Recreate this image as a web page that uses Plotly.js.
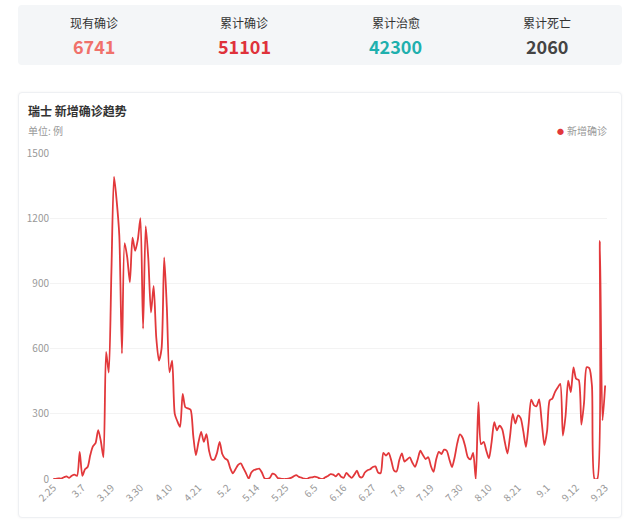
<!DOCTYPE html>
<html>
<head>
<meta charset="utf-8">
<script src="https://cdn.plot.ly/plotly-3.0.1.min.js"></script>
<style>
  html, body { margin: 0; padding: 0; background: #ffffff; }
  #wrap { position: relative; width: 640px; height: 520px; overflow: hidden; }
  #card1 { position: absolute; left: 18px; top: 5px; width: 604px; height: 60px; background: #f4f6f8; border-radius: 4px; }
  #card2 { position: absolute; left: 18px; top: 92px; width: 602px; height: 424px; background: #ffffff; border: 1px solid #eef0f3; border-radius: 4px; box-shadow: 0 0 3px rgba(0,0,0,0.05); }
  #chart { position: absolute; left: 0; top: 0; width: 640px; height: 520px; }
</style>
</head>
<body>
<div id="wrap">
  <div id="card1"></div>
  <div id="card2"></div>
  <div id="chart"></div>
</div>
<script>
// ---- data ----
const statLabels = ["现有确诊", "累计确诊", "累计治愈", "累计死亡"];
const statValues = ["6741", "51101", "42300", "2060"];
const statColors = ["#f0716b", "#df323b", "#1fb0ae", "#444444"];

const chartTitle = "瑞士 新增确诊趋势";
const unitText = "单位: 例";
const seriesName = "新增确诊";

const dates = [
  "2.25","2.26","2.27","2.28","2.29",
  "3.1","3.2","3.3","3.4","3.5","3.6","3.7","3.9","3.10","3.11","3.12","3.13","3.14","3.15","3.16","3.17","3.18","3.19","3.20","3.21","3.22","3.23","3.24","3.25","3.26","3.27","3.28","3.29","3.30","3.31",
  "4.1","4.2","4.3","4.4","4.5","4.6","4.7","4.8","4.9","4.10","4.11","4.12","4.13","4.14","4.15","4.16","4.17","4.18","4.19","4.20","4.21","4.22","4.23","4.24","4.25","4.26","4.27","4.28","4.29","4.30",
  "5.1","5.2","5.3","5.4","5.5","5.6","5.7","5.8","5.9","5.11","5.12","5.13","5.14","5.15","5.16","5.17","5.18","5.19","5.20","5.21","5.22","5.23","5.24","5.25","5.26","5.27","5.28","5.29","5.30","5.31",
  "6.1","6.2","6.3","6.4","6.5","6.6","6.7","6.8","6.9","6.10","6.11","6.12","6.13","6.14","6.15","6.16","6.17","6.18","6.19","6.20","6.21","6.22","6.23","6.24","6.25","6.26","6.27","6.28","6.29","6.30",
  "7.1","7.2","7.3","7.4","7.5","7.6","7.7","7.8","7.9","7.10","7.11","7.12","7.13","7.14","7.15","7.16","7.17","7.18","7.19","7.20","7.21","7.22","7.23","7.24","7.25","7.26","7.27","7.28","7.29","7.30","7.31",
  "8.1","8.2","8.3","8.4","8.5","8.6","8.7","8.8","8.9","8.10","8.11","8.12","8.13","8.14","8.15","8.16","8.17","8.18","8.19","8.20","8.21","8.22","8.23","8.24","8.25","8.26","8.27","8.28","8.29","8.30","8.31",
  "9.1","9.2","9.3","9.4","9.5","9.6","9.7","9.8","9.9","9.10","9.11","9.12","9.13","9.14","9.15","9.16","9.17","9.18","9.19","9.20","9.21","9.22","9.23"
];

const newCases = [
  0,1,3,2,8,12,5,15,20,14,
  125,15,45,55,110,150,165,225,175,100,
  585,490,950,1390,1280,1120,578,1085,1020,905,
  1110,1050,1100,1200,692,1163,1010,766,888,650,
  545,600,1020,790,491,545,300,265,240,392,
  330,325,319,200,110,170,217,171,206,130,
  90,90,120,171,115,95,87,50,26,45,
  65,72,50,26,2,30,41,45,48,30,
  3,0,5,25,20,5,2,0,0,2,
  5,12,18,10,6,2,0,6,8,11,
  8,2,0,8,14,22,20,12,25,10,
  6,28,15,5,20,38,10,8,30,40,
  45,55,58,30,28,120,108,120,85,40,
  35,85,118,80,90,99,75,56,90,130,
  110,92,100,60,33,90,125,115,135,130,
  90,55,100,165,205,190,150,100,90,120,
  0,354,160,171,130,95,170,262,224,245,
  230,170,117,200,300,255,293,280,220,148,
  250,365,340,335,366,260,156,220,362,370,
  400,420,438,200,290,453,400,514,461,455,
  250,350,514,510,430,0,0,1095,270,430
];

const xTickLabels = ["2.25","3.7","3.19","3.30","4.10","4.21","5.2","5.14","5.25","6.5","6.16","6.27","7.8","7.19","7.30","8.10","8.21","9.1","9.12","9.23"];
const yTickVals = [0, 300, 600, 900, 1200, 1500];

// ---- layout geometry (pixels) ----
const W = 640, H = 520;
const M = { l: 50, r: 33, t: 153, b: 41 };
const pw = W - M.l - M.r, ph = H - M.t - M.b;
const X = px => (px - M.l) / pw;
const Y = py => (H - M.b - py) / ph;

const FONT = '"Noto Sans CJK SC", "Noto Sans", sans-serif';
const lineColor = '#e2383b';

const annotations = [];
statLabels.forEach((lab, k) => {
  const cx = 18 + 151 * (k + 0.5);
  annotations.push({
    xref: 'paper', yref: 'paper', x: X(cx), y: Y(22), xanchor: 'center', yanchor: 'middle',
    text: lab, showarrow: false, font: { family: FONT, size: 12, color: '#333333' }
  });
  annotations.push({
    xref: 'paper', yref: 'paper', x: X(cx), y: Y(46), xanchor: 'center', yanchor: 'middle',
    text: '<b>' + statValues[k] + '</b>', showarrow: false, font: { family: FONT, size: 18, color: statColors[k] }
  });
});
annotations.push({
  xref: 'paper', yref: 'paper', x: X(26), y: Y(110), xanchor: 'left', yanchor: 'middle',
  text: '<b>' + chartTitle + '</b>', showarrow: false, font: { family: FONT, size: 12, color: '#333333' }
});
annotations.push({
  xref: 'paper', yref: 'paper', x: X(26), y: Y(131), xanchor: 'left', yanchor: 'middle',
  text: unitText, showarrow: false, font: { family: FONT, size: 10, color: '#999999' }
});
annotations.push({
  xref: 'paper', yref: 'paper', x: X(566), y: Y(131), xanchor: 'right', yanchor: 'middle',
  text: '●', showarrow: false, font: { family: FONT, size: 7, color: lineColor }
});
annotations.push({
  xref: 'paper', yref: 'paper', x: X(609), y: Y(131), xanchor: 'right', yanchor: 'middle',
  text: seriesName, showarrow: false, font: { family: FONT, size: 10, color: '#999999' }
});

const trace = {
  type: 'scatter', mode: 'lines', name: seriesName,
  x: dates, y: newCases,
  line: { color: lineColor, width: 1.8, shape: 'spline', smoothing: 0.7 },
  hoverinfo: 'x+y'
};

const layout = {
  width: W, height: H,
  margin: M,
  paper_bgcolor: 'rgba(0,0,0,0)', plot_bgcolor: 'rgba(0,0,0,0)',
  showlegend: false,
  font: { family: FONT, color: '#999999' },
  xaxis: {
    type: 'category', range: [-1.25, 209.7], fixedrange: true,
    tickmode: 'array', tickvals: xTickLabels, ticktext: xTickLabels,
    tickangle: -45, tickfont: { family: FONT, size: 10, color: '#999999' },
    showgrid: false, zeroline: false, showline: false, ticks: ''
  },
  yaxis: {
    range: [0, 1500], fixedrange: true,
    tickmode: 'array', tickvals: yTickVals, ticktext: yTickVals.map(String),
    tickfont: { family: FONT, size: 10, color: '#999999' },
    showgrid: true, gridcolor: '#f3f3f3', gridwidth: 1, zeroline: false, showline: false, ticks: ''
  },
  annotations: annotations
};

Plotly.newPlot('chart', [trace], layout, { displayModeBar: false, staticPlot: true });
</script>
</body>
</html>
